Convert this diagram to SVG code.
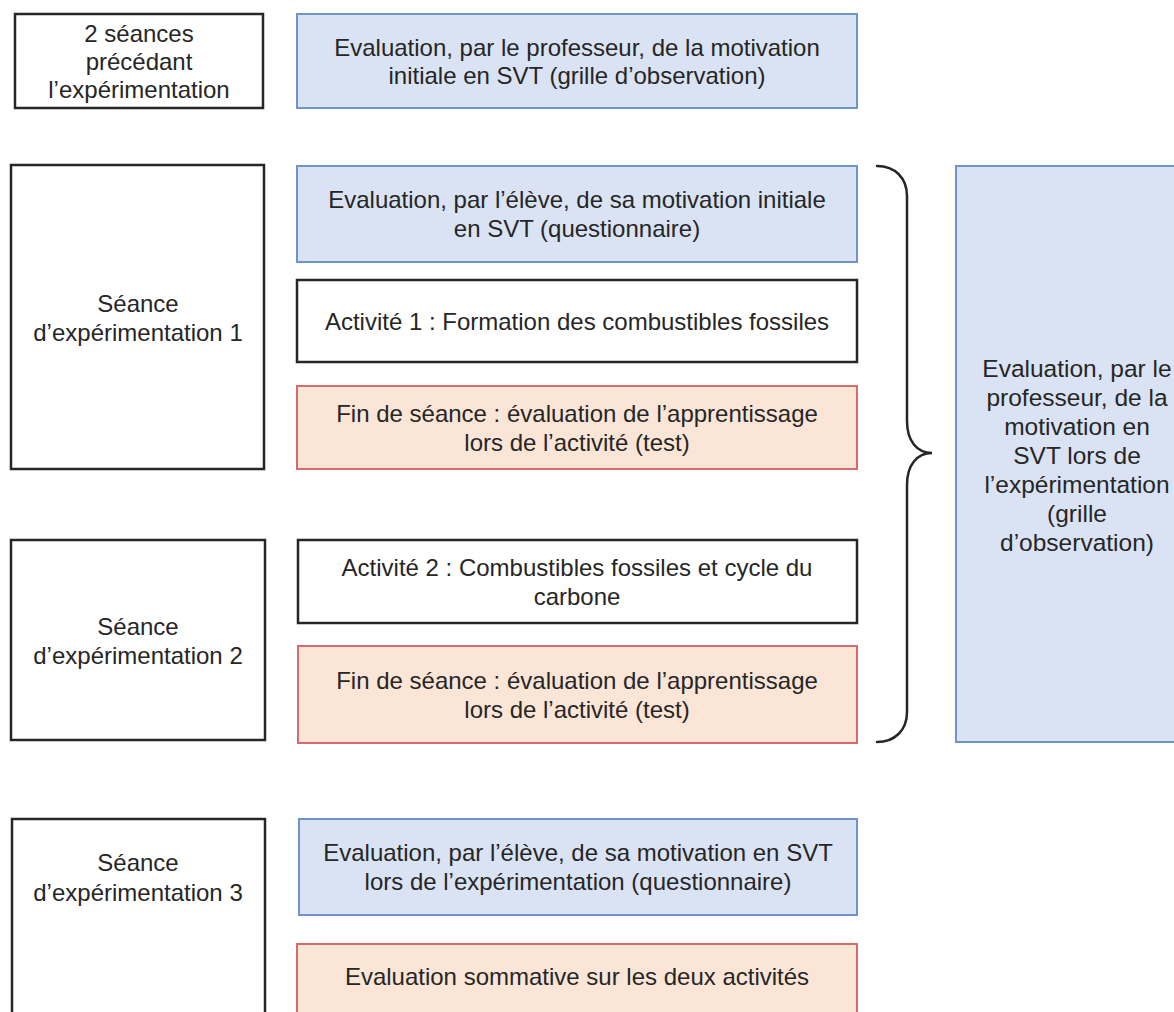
<svg xmlns="http://www.w3.org/2000/svg" width="1174" height="1012" viewBox="0 0 1174 1012">
<style>
  text { font-family: "Liberation Sans", Arial, sans-serif; font-size: 24px; fill: #262626; text-anchor: middle; }
  .big { font-size: 24.5px; }
  .plain { fill: #ffffff; stroke: #262626; stroke-width: 2.5; }
  .blue { fill: #dae3f3; stroke: #6f93cb; stroke-width: 2; }
  .red { fill: #fbe5d6; stroke: #d66a6c; stroke-width: 2; }
  .brace { fill: none; stroke: #262626; stroke-width: 2.5; stroke-linecap: round; }
</style>
<rect width="1174" height="1012" fill="#ffffff"/>

<g id="pre">
  <rect class="plain" x="15" y="14" width="248" height="94"/>
  <text x="139" y="42">2 séances</text>
  <text x="139" y="70">précédant</text>
  <text x="139" y="98">l’expérimentation</text>
</g>
<g id="eval-prof-initiale">
  <rect class="blue" x="297" y="14" width="560" height="94"/>
  <text x="577" y="56">Evaluation, par le professeur, de la motivation</text>
  <text x="577" y="84">initiale en SVT (grille d’observation)</text>
</g>

<g id="seance1">
  <rect class="plain" x="11" y="165" width="253" height="304"/>
  <text x="138" y="312">Séance</text>
  <text x="138" y="341">d’expérimentation 1</text>
</g>
<g id="eval-eleve-initiale">
  <rect class="blue" x="297" y="166" width="560" height="96"/>
  <text x="577" y="208">Evaluation, par l’élève, de sa motivation initiale</text>
  <text x="577" y="237">en SVT (questionnaire)</text>
</g>
<g id="activite1">
  <rect class="plain" x="297" y="280" width="560" height="82"/>
  <text x="577" y="330">Activité 1 : Formation des combustibles fossiles</text>
</g>
<g id="fin-seance1">
  <rect class="red" x="297" y="386" width="560" height="83"/>
  <text x="577" y="422">Fin de séance : évaluation de l’apprentissage</text>
  <text x="577" y="451">lors de l’activité (test)</text>
</g>

<g id="seance2">
  <rect class="plain" x="11" y="540" width="254" height="200"/>
  <text x="138" y="635">Séance</text>
  <text x="138" y="664">d’expérimentation 2</text>
</g>
<g id="activite2">
  <rect class="plain" x="298" y="540" width="559" height="83"/>
  <text x="577" y="576">Activité 2 : Combustibles fossiles et cycle du</text>
  <text x="577" y="605">carbone</text>
</g>
<g id="fin-seance2">
  <rect class="red" x="298" y="646" width="559" height="97"/>
  <text x="577" y="689">Fin de séance : évaluation de l’apprentissage</text>
  <text x="577" y="718">lors de l’activité (test)</text>
</g>

<g id="eval-prof-experimentation">
  <rect class="blue" x="956" y="166" width="250" height="576"/>
  <text class="big" x="1077" y="377">Evaluation, par le</text>
  <text class="big" x="1077" y="406">professeur, de la</text>
  <text class="big" x="1077" y="435">motivation en</text>
  <text class="big" x="1077" y="464">SVT lors de</text>
  <text class="big" x="1077" y="493">l’expérimentation</text>
  <text class="big" x="1077" y="522">(grille</text>
  <text class="big" x="1077" y="551">d’observation)</text>
</g>

<g id="seance3">
  <rect class="plain" x="12" y="819" width="253" height="220"/>
  <text x="138" y="871">Séance</text>
  <text x="138" y="901">d’expérimentation 3</text>
</g>
<g id="eval-eleve-experimentation">
  <rect class="blue" x="299" y="819" width="558" height="96"/>
  <text x="578" y="861">Evaluation, par l’élève, de sa motivation en SVT</text>
  <text x="578" y="890">lors de l’expérimentation (questionnaire)</text>
</g>
<g id="evaluation-sommative">
  <rect class="red" x="297" y="944" width="560" height="95"/>
  <text x="577" y="985">Evaluation sommative sur les deux activités</text>
</g>

<g id="connectors">
  <path class="brace" d="M877,166 C895,166 907,178 907,196 L907,421 C907,441 917,453 932,453 C917,453 907,465 907,485 L907,712 C907,730 895,742 877,742"/>
</g>
</svg>
